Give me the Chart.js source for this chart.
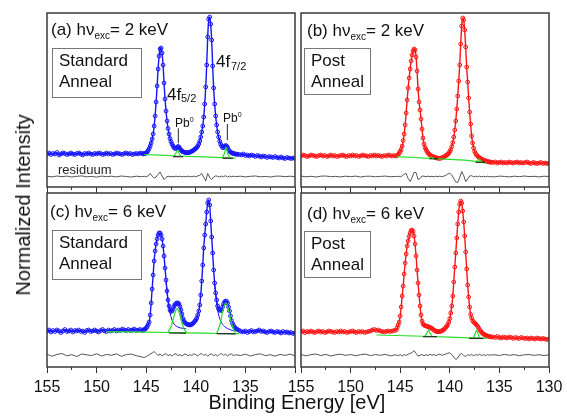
<!DOCTYPE html>
<html>
<head>
<meta charset="utf-8">
<script src="https://cdn.jsdelivr.net/npm/chart.js@4.4.0/dist/chart.umd.min.js"></script>
<style>
  body { margin: 0; background: #fff; width: 567px; height: 416px; position: relative; overflow: hidden;
         font-family: Arial, "Liberation Sans", sans-serif; color: #111; }
  canvas { position: absolute; }
  .t { position: absolute; white-space: nowrap; line-height: 1; }
  .lab { font-size: 17px; }
  .sb { font-size: 10px; position: relative; top: 4px; }
  .box { position: absolute; border: 1px solid #777; font-size: 17px; line-height: 21px; padding: 1px 0 0 6px; box-sizing: border-box; }
</style>
</head>
<body>
<canvas id="ca" width="288" height="204" style="left:27px;top:-7px"></canvas>
<canvas id="cb" width="288" height="204" style="left:281px;top:-7px"></canvas>
<canvas id="cc" width="288" height="234" style="left:27px;top:173px"></canvas>
<canvas id="cd" width="288" height="234" style="left:281px;top:173px"></canvas>

<div class="t lab" style="left:51px;top:21px">(a) hν<span class="sb">exc</span>= 2 keV</div>
<div class="t lab" style="left:307px;top:22px">(b) hν<span class="sb">exc</span>= 2 keV</div>
<div class="t lab" style="left:50px;top:203px">(c) hν<span class="sb">exc</span>= 6 keV</div>
<div class="t lab" style="left:307px;top:205px">(d) hν<span class="sb">exc</span>= 6 keV</div>

<div class="box" style="left:52px;top:48px;width:90px;height:50px">Standard<br>Anneal</div>
<div class="box" style="left:304px;top:48px;width:67px;height:47px">Post<br>Anneal</div>
<div class="box" style="left:52px;top:230px;width:90px;height:50px">Standard<br>Anneal</div>
<div class="box" style="left:304px;top:231px;width:67px;height:47px">Post<br>Anneal</div>

<div class="t lab" style="left:167px;top:86px">4f</div>
<div class="t" style="left:181px;top:93px;font-size:11px">5/2</div>
<div class="t lab" style="left:216px;top:53px">4f</div>
<div class="t" style="left:231px;top:61px;font-size:11px">7/2</div>
<div class="t" style="left:175px;top:117px;font-size:12px">Pb<span style="font-size:7px;position:relative;top:-5px">0</span></div>
<div class="t" style="left:223px;top:112px;font-size:12px">Pb<span style="font-size:7px;position:relative;top:-5px">0</span></div>
<div class="t" style="left:58px;top:163px;font-size:13px;color:#222">residuum</div>

<div class="t" style="left:23px;top:205px;font-size:20px;transform:translate(-50%,-50%) rotate(-90deg)">Normalized Intensity</div>
<div class="t" style="left:297px;top:392px;font-size:20px;transform:translateX(-50%)">Binding Energy [eV]</div>

<script>
// binding energy grid of the measured spectra (eV)
const energy = [
  155.0, 154.8, 154.6, 154.4, 154.2, 154.0, 153.8, 153.6, 153.4, 153.2,
  153.0, 152.8, 152.6, 152.4, 152.2, 152.0, 151.8, 151.6, 151.4, 151.2,
  151.0, 150.8, 150.6, 150.4, 150.2, 150.0, 149.8, 149.6, 149.4, 149.2,
  149.0, 148.8, 148.6, 148.4, 148.2, 148.0, 147.8, 147.6, 147.4, 147.2,
  147.0, 146.8, 146.6, 146.4, 146.2, 146.0, 145.8, 145.6, 145.4,
  145.3, 145.2, 145.1, 145.0, 144.9, 144.8, 144.7, 144.6, 144.5, 144.4,
  144.3, 144.2, 144.1, 144.0, 143.9, 143.8, 143.7, 143.6, 143.5, 143.4,
  143.3, 143.2, 143.1, 143.0, 142.9, 142.8, 142.7, 142.6, 142.5, 142.4,
  142.3, 142.2, 142.1, 142.0, 141.9, 141.8, 141.7, 141.6, 141.5, 141.4,
  141.3, 141.2, 141.1, 141.0, 140.9, 140.8, 140.7, 140.6, 140.5, 140.4,
  140.3, 140.2, 140.1, 140.0, 139.9, 139.8, 139.7, 139.6, 139.5, 139.4,
  139.3, 139.2, 139.1, 139.0, 138.9, 138.8, 138.7, 138.6, 138.5, 138.4,
  138.3, 138.2, 138.1, 138.0, 137.9, 137.8, 137.7, 137.6, 137.5, 137.4,
  137.3, 137.2, 137.1, 137.0, 136.9, 136.8, 136.7, 136.6, 136.5, 136.4,
  136.3, 136.2, 136.1, 136.0, 135.9, 135.8,
  135.6, 135.4, 135.2, 135.0, 134.8, 134.6, 134.4, 134.2, 134.0, 133.8,
  133.6, 133.4, 133.2, 133.0, 132.8, 132.6, 132.4, 132.2, 132.0, 131.8,
  131.6, 131.4, 131.2, 131.0, 130.8, 130.6, 130.4, 130.2, 130.0
];

// (a) standard anneal, 2 keV
const intA = [
  33, 34, 32.5, 33.5, 33, 34.5, 32, 33, 34, 33.5,
  32.5, 33, 34, 33, 32.5, 33.5, 34, 33, 32, 33.5,
  33, 34, 33, 32.5, 33.5, 33, 34, 33.5, 32.5, 33,
  34, 33, 33.5, 32.5, 33, 34, 33.5, 33, 32.5, 33.5,
  34, 33, 33.5, 32.5, 33, 33.5, 33, 34, 33.5,
  33, 33.5, 33.5, 34, 35, 36.5, 38.5, 41, 44, 48,
  53, 61, 71, 85, 101, 118, 131, 138, 139, 134,
  122, 104, 88, 76, 66, 58.5, 53, 48.5, 45.5, 43,
  41, 39.5, 38.5, 38.5, 39.5, 40.5, 40, 38.5, 37, 36,
  35.3, 35, 34.5, 34.3, 34.2, 34.3, 34.5, 34.8, 35.2, 35.7,
  36.3, 37, 37.8, 38.5, 39.5, 41, 43, 46, 50, 55,
  61, 70, 83, 100, 122, 150, 168, 170, 163, 147,
  121, 99, 83, 71, 62, 55, 50, 46, 43, 41,
  39.5, 39.5, 40.5, 41.5, 41, 39.5, 37.5, 36, 35, 34.3,
  33.8, 33.5, 33.2, 33, 32.8, 32.7,
  32.5, 32, 33, 31.5, 32, 31, 32, 31.5, 30.5, 31.5,
  31, 30, 31, 30.5, 29.5, 30.5, 30, 29.5, 30.5, 29.5,
  29, 30, 29, 28.5, 29.5, 29, 28.5, 29, 28.5
];

// (b) post anneal, 2 keV
const intB = [
  31, 32, 31.5, 30.5, 31, 32, 31.5, 31, 30.5, 31.5,
  32, 31, 31.5, 30.5, 31, 32, 31, 31.5, 30.5, 31,
  31.5, 32, 31, 30.5, 31.5, 31, 32, 31, 31.5, 30.5,
  31, 32, 31.5, 31, 30.5, 31.5, 31, 32, 31, 31.5,
  31, 30.5, 31.5, 31, 32, 31.5, 31, 31.5, 31,
  31.5, 32.5, 34, 35.5, 37.5, 41, 46.5, 53, 62, 74,
  87, 99, 109, 118, 126, 132, 136, 138, 137, 130,
  116, 98, 85, 77, 68, 58, 49, 43, 39.5, 37.5,
  35.5, 34, 33, 32, 31.3, 30.8, 30.4, 30, 29.6, 29.3,
  29, 28.8, 28.7, 28.7, 28.9, 29.2, 29.6, 30, 30.7, 31.3,
  32, 32.8, 33.8, 35.5, 37.5, 40.5, 44.5, 50, 57, 66,
  78, 91, 106, 122, 143, 161, 169, 167, 157, 140,
  120, 105, 89, 75, 63, 51, 44, 39, 35.5, 33.5,
  32, 31, 30, 29.2, 28.5, 27.8, 27.3, 26.9, 26.5, 26.2,
  25.8, 25.5, 25.2, 25, 24.9, 24.8,
  24.5, 25, 24, 24.5, 25, 24, 24.5, 24, 25, 24.5,
  24, 24.5, 25, 24, 24.5, 24, 24.5, 25, 24, 23.5,
  24.5, 24, 23.5, 24, 24.5, 23.5, 24, 23.5, 23.5
];

// (c) standard anneal, 6 keV
const intC = [
  36, 37, 35, 36.5, 35.5, 37, 36, 34.5, 36, 37.5,
  35.5, 36, 37, 35, 36.5, 36, 37, 35.5, 36, 34.5,
  36.5, 37, 35.5, 36, 37, 36, 35, 36.5, 37.5, 36,
  35.5, 37, 36, 36.5, 37.5, 36, 37, 36.5, 38, 37,
  36.5, 37.5, 36.5, 37, 38, 36.5, 37, 37.5, 36.5,
  37, 37.5, 38, 39, 40.5, 42.5, 45, 52, 64, 78,
  92, 106, 116, 123, 128, 132, 134, 134, 132, 128,
  121, 111, 99, 87, 76, 67, 61, 57, 55.5, 56,
  58, 60.5, 62.5, 63.5, 64, 64, 63, 60.5, 57, 53,
  48.5, 46, 44.5, 43.5, 43, 42.5, 42.2, 42, 42.2, 42.8,
  43.5, 44.5, 45.8, 47, 49, 52, 56, 62, 72, 86,
  102, 119, 132, 143, 155, 164, 167, 162, 146, 130,
  114, 97, 84, 74, 67, 61, 58, 57, 56.5, 57,
  60, 63, 65, 66, 65.5, 64, 60, 56, 51, 46.5,
  43.5, 41.5, 40, 39, 38, 37.5,
  36.5, 35.5, 35, 36, 34.5, 35.5, 36.5, 35, 35.5, 36,
  37, 35.5, 36, 35, 34.5, 35.5, 36, 35, 34.5, 35.5,
  35, 34, 35.5, 34.5, 35, 34, 34.5, 33.5, 34
];

// (d) post anneal, 6 keV
const intD = [
  35, 36, 34.5, 35.5, 35, 36, 35, 34.5, 35.5, 36,
  35, 35.5, 34.5, 35, 36, 35.5, 35, 34.5, 35.5, 35,
  36, 35, 35.5, 34.5, 35, 35.5, 36, 35, 34.5, 35.5,
  35, 35.5, 34.5, 35, 35.5, 36, 37, 37.5, 36.5, 37,
  36, 35.5, 35, 35.5, 36, 35.5, 36, 36.5, 37,
  39.5, 42, 45, 51, 60, 71, 81, 93, 104, 113,
  121, 126, 130.5, 134, 136.5, 137, 135.5, 131, 123, 111,
  97, 84, 72, 61, 52, 46, 43, 42, 41.3, 41,
  40.7, 40.4, 40, 39.5, 39, 38.5, 37.8, 37, 36.3, 35.8,
  35.4, 35.3, 35.3, 35.5, 35.8, 36.2, 36.8, 37.5, 38.5, 39.7,
  41, 42.5, 45, 48.5, 54, 61, 71, 85, 100, 114,
  129, 143, 155, 163, 166, 164, 156, 145, 131, 115,
  98, 82, 70, 60, 52.5, 49, 46.5, 45, 44, 43,
  42, 40.8, 39.3, 37.5, 36, 34.8, 33.8, 33, 32.3, 31.8,
  31.3, 31, 30.7, 30.4, 30.2, 30,
  30, 29.5, 30.5, 29.5, 29, 30, 29.5, 29, 30, 29.5,
  28.5, 29.5, 29, 28.5, 29.5, 29, 28.5, 29, 28, 29,
  28.5, 28, 29, 28.5, 28, 28.5, 28, 27.5, 28
];

// residuals of the fits
const resEnergy = [
  155, 154.5, 154, 153.5, 153, 152.5, 152, 151.5, 151, 150.5,
  150, 149.5, 149, 148.5, 148, 147.5, 147, 146.5, 146, 145.5,
  145.2, 145.0, 144.8, 144.6, 144.4, 144.2, 144.0, 143.8, 143.6, 143.4,
  143.2, 143.0, 142.8, 142.6, 142.4, 142.2, 142.0, 141.8, 141.6, 141.4,
  141.2, 141.0, 140.8, 140.6, 140.4, 140.2, 140.0, 139.8, 139.6, 139.4,
  139.2, 139.0, 138.8, 138.6, 138.4, 138.2, 138.0, 137.8, 137.6, 137.4,
  137.2, 137.0, 136.8, 136.6, 136.4, 136.2, 136.0,
  135.5, 135, 134.5, 134, 133.5, 133, 132.5, 132, 131.5, 131, 130.5, 130
];
const resA = [
  0.3, -0.4, 0.5, -0.2, 0.4, -0.5, 0.2, 0.6, -0.3, 0.1,
  -0.6, 0.4, -0.2, 0.3, -0.4, 0.5, 0, -0.5, 0.3, -0.2,
  0.2, -0.3, 0.6, 3, 0.5, -1.5, -0.5, 2, 4.5, 0.5,
  -3, -1, 0.3, -0.4, 0.2, -0.3, 0.4, -0.2, 0.3, -0.4,
  0.2, -0.3, 0.3, 0, -0.3, 0.4, -0.2, 0.6, 1.2, 3,
  -1, -4.5, 3, -1, -3, -0.5, 0.6, 0.2, -0.5, 0.4,
  -0.2, 0.8, -0.6, 0.3, -0.2, 0.3, -0.1,
  0.3, -0.4, 0.2, 0.5, -0.3, 0.1, -0.5, 0.3, 0.4, -0.2, 0.3, -0.1
];
const resB = [
  0.4, -0.3, 0.2, -0.5, 0.3, 0.5, -0.2, 0.1, -0.4, 0.3,
  -0.2, 0.4, -0.5, 0.2, 0.3, -0.3, 0.1, 0.4, -0.2, 0,
  0.2, -0.3, 0.5, 2.5, 3, -2, -5, -1, 4, 4,
  -3, -2, 0.5, 0.3, -0.2, 0.4, -0.3, 0.2, -0.4, 0.3,
  -0.2, 0.4, -0.3, 0.5, 1, 2.5, 3.3, 1.5, -2, -5.5,
  -6, -1, 5, 1, -5, -2.5, 0.5, 0.8, -0.4, 0.3,
  -0.2, 0.4, -0.3, 0.2, -0.3, 0.3, -0.2,
  -0.3, 0.4, 0.1, -0.4, 0.3, -0.2, 0.5, -0.1, 0.2, -0.4, 0.3, 0
];
const resC = [
  0.8, -1.2, 0.5, 1.5, -0.8, 0.3, -1.5, 1, 0.2, -0.6,
  1.3, -1, 0.6, -0.3, 1.2, -1.4, 0.5, 0.9, -0.7, -1.8,
  -2.5, -1.5, -0.5, 1, 2, 3.5, 1.5, -0.5, 1, -1,
  0.5, 1.5, -0.8, 0.6, -1.2, 0.8, 1.2, -0.5, 0.3, -1,
  0.6, 1, -0.8, 0.4, -0.5, 1.2, 0.3, -1, 0.8, 1.5,
  -0.5, 0.8, -1.2, 0.5, 1.2, -0.8, 0.4, -1, 0.6, 1.5,
  -0.4, 0.8, -1, 0.5, 1, -0.6, 0.3,
  -0.5, 0.8, -1, 0.4, 1.2, -0.7, 0.3, -1.1, 0.6, -0.4, 0.9, -0.8
];
const resD = [
  0.5, -0.8, 0.3, 1, -0.5, 0.6, -1, 0.2, 0.8, -0.4,
  0.5, -0.7, 0.3, 0.9, -0.6, 0.4, -0.3, 0.7, -0.9, 0.2,
  -0.8, 0.5, -1, 0.4, -0.5, 0.8, 1.5, 2.5, 4.3, 1.5,
  -1, -0.3, 0.6, -0.8, 0.4, -0.5, 0.7, -0.3, 0.5, -0.6,
  0.3, 0.8, -0.4, 0.5, 1, 1.8, 2.2, 0.5, -2, -4.5,
  -3, 0.5, 1.5, -0.5, -1.5, 0.3, -0.4, 0.6, -0.8, 0.4,
  -0.3, 0.7, -0.5, 0.3, -0.6, 0.5, -0.2,
  0.3, -0.5, 0.6, -0.3, 0.4, -0.7, 0.2, 0.5, -0.4, 0.3, -0.6, 0.2
];

// fitted backgrounds (green), Pb0 components (green) and their baselines (black)
const bgA = [[145.2, 32.5], [143.5, 31.8], [142, 31], [140, 30.4], [138.5, 29.8], [137, 29.2], [136, 28.8]];
const pbA = [[142.2, 31], [142, 34], [141.85, 37], [141.7, 34], [141.5, 30.8]];
const pbA2 = [[137.3, 29.8], [137.1, 34], [136.95, 40], [136.8, 34], [136.6, 29.5]];
const baseA = [[142.3, 30.3], [141.3, 30.3]];
const baseA2 = [[137.3, 28.8], [136.25, 28.8]];
const ptrA = [[141.76, 43.7], [141.76, 58.7]];
const ptrA2 = [[136.82, 47], [136.82, 63]];

const bgB = [[145.35, 30.3], [143.5, 29.5], [141.7, 28.3], [140, 27.6], [138.5, 26.8], [137.2, 25.3], [136.3, 23.8]];
const pbB = [[142.1, 28.3], [141.85, 30], [141.6, 28]];
const pbB2 = [[137.3, 25.3], [137.05, 28], [136.8, 25]];
const baseB = [[142.1, 28.3], [141.2, 28.3]];
const baseB2 = [[137.4, 24.7], [136.45, 24.7]];

const bgC = [[149, 35.3], [145, 34.8], [142.8, 34.5], [141, 34.2], [139, 33.8], [137.9, 33.5], [135.6, 33.3]];
const pbC = [[142.8, 35], [142.5, 40], [142.3, 47], [142.1, 54], [141.9, 58.5], [141.7, 55], [141.5, 48], [141.3, 41], [141.1, 36.5], [140.9, 34.5]];
const pbC2 = [[137.9, 34], [137.7, 38], [137.5, 45], [137.3, 55], [137.1, 62], [136.95, 64], [136.8, 61], [136.6, 53], [136.4, 44], [136.2, 38], [136, 34.5]];
const baseC = [[142.7, 34], [141, 33.8]];
const baseC2 = [[137.9, 33.3], [136, 33.1]];
const compC = [[143, 86], [142.8, 66], [142.6, 54], [142.4, 47], [142.2, 43], [142, 41], [141.7, 39.5], [141.4, 38.8], [141, 38.5]];
const compC2 = [[138.1, 82], [137.9, 64], [137.7, 52], [137.5, 46], [137.3, 42.5], [137.1, 40.5], [136.8, 38.5], [136.5, 37.2], [136.1, 36]];

const bgD = [[147.4, 32], [145.5, 31.5], [143.5, 31], [142, 30.5], [140, 29.8], [138, 29.2], [136.3, 28.7]];
const pbD = [[142.5, 31], [142.3, 34], [142.15, 37], [142, 34], [141.8, 30.8]];
const pbD2 = [[137.6, 29.5], [137.45, 33], [137.3, 37], [137.15, 33], [137, 29.3]];
const baseD = [[142.7, 30.3], [141.3, 30.3]];
const baseD2 = [[138.05, 28.7], [136.6, 28.7]];

const BLUE = 'rgb(20,20,255)';
const RED = 'rgb(255,20,20)';
const GREEN = 'rgb(40,220,40)';

Chart.defaults.font.family = 'Arial, "Liberation Sans", sans-serif';

function xy(xs, ys, off) {
  return xs.map((x, i) => ({ x: x, y: ys[i] + (off || 0) }));
}
function pairs(a) {
  return a.map(p => ({ x: p[0], y: p[1] }));
}
function line(data, color, width, tension) {
  return { data: pairs(data), borderColor: color, borderWidth: width, pointRadius: 0, tension: tension || 0, fill: false };
}

// frame round the plot area
const frame = {
  id: 'frame',
  afterDatasetsDraw(chart) {
    const a = chart.chartArea;
    const ctx = chart.ctx;
    ctx.save();
    ctx.strokeStyle = '#3a3a3a';
    ctx.lineWidth = 1.5;
    ctx.strokeRect(a.left, a.top, a.right - a.left, a.bottom - a.top);
    ctx.restore();
  }
};

function makePanel(id, color, ints, res, resOff, overlays, labels, skip130) {
  const datasets = overlays.slice();
  datasets.push({
    data: xy(resEnergy, res, resOff), borderColor: '#555', borderWidth: 1, pointRadius: 0, tension: 0
  });
  datasets.push({
    data: xy(energy, ints), borderColor: color, borderWidth: 1.4, tension: 0.2,
    pointRadius: 1.9, pointBorderWidth: 1, pointBorderColor: color, pointBackgroundColor: 'rgba(255,255,255,0)'
  });
  new Chart(document.getElementById(id), {
    type: 'line',
    data: { datasets: datasets },
    options: {
      responsive: false,
      animation: false,
      events: [],
      layout: { padding: { left: 20, right: 20, top: 20, bottom: 0 } },
      plugins: { legend: { display: false }, tooltip: { enabled: false } },
      scales: {
        x: {
          type: 'linear', min: 130, max: 155, reverse: true,
          afterFit: s => { s.height = labels ? 40 : 10; },
          border: { display: false },
          grid: {
            drawOnChartArea: false, drawTicks: true, tickLength: 6, tickColor: '#333', tickWidth: 1,
            tickBorderDash: c => (c.tick && c.tick.value % 5 !== 0) ? [3, 20] : []
          },
          ticks: {
            display: labels, stepSize: 2.5, autoSkip: false, maxRotation: 0, padding: 5,
            color: '#111', font: { size: 16 },
            callback: v => (v % 5 === 0 && !(skip130 && v === 130)) ? v : ''
          }
        },
        y: { display: false, min: 0, max: 174 }
      }
    },
    plugins: [frame]
  });
}

makePanel('ca', BLUE, intA, resA, 10.5, [
  line(ptrA, '#222', 1), line(ptrA2, '#222', 1),
  line(pbA, GREEN, 1.2, 0.3), line(pbA2, GREEN, 1.2, 0.3),
  line(baseA, '#222', 1.2), line(baseA2, '#222', 1.2),
  line(bgA, GREEN, 1.2)
], false, false);

makePanel('cb', RED, intB, resB, 10.5, [
  line(pbB, GREEN, 1.2, 0.3), line(pbB2, GREEN, 1.2, 0.3),
  line(baseB, '#222', 1.2), line(baseB2, '#222', 1.2),
  line(bgB, GREEN, 1.2)
], false, false);

makePanel('cc', BLUE, intC, resC, 12, [
  line(pbC, GREEN, 1.2, 0.3), line(pbC2, GREEN, 1.2, 0.3),
  line(baseC, '#222', 1.2), line(baseC2, '#222', 1.2),
  line(compC, BLUE, 1, 0.3), line(compC2, BLUE, 1, 0.3),
  line(bgC, GREEN, 1.2)
], true, true);

makePanel('cd', RED, intD, resD, 12, [
  line(pbD, GREEN, 1.2, 0.3), line(pbD2, GREEN, 1.2, 0.3),
  line(baseD, '#222', 1.2), line(baseD2, '#222', 1.2),
  line(bgD, GREEN, 1.2)
], true, false);
</script>
</body>
</html>
